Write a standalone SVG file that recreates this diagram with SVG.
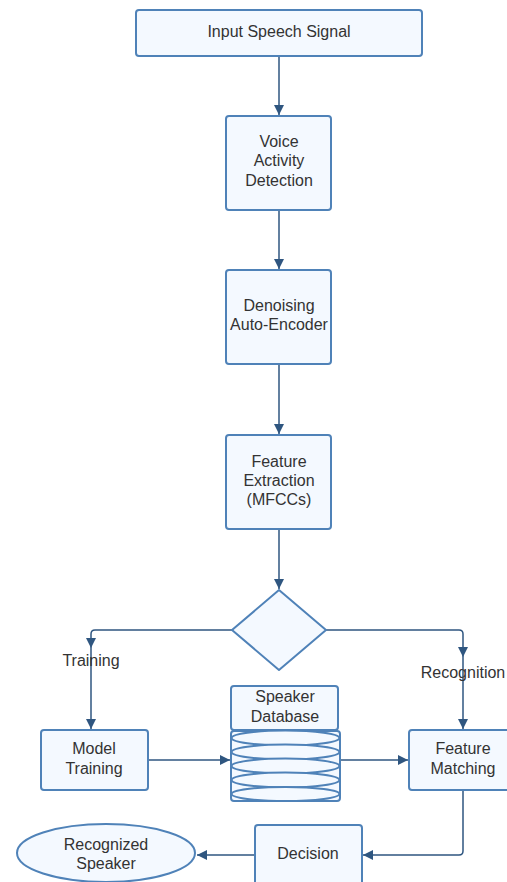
<svg xmlns="http://www.w3.org/2000/svg" width="507" height="882" viewBox="0 0 507 882">
<style>
.n{fill:#f4f9ff;stroke:#4f82b8;stroke-width:2}
.c{fill:none;stroke:#2f5680;stroke-width:1.5}
.t{font-family:"Liberation Sans",Arial,sans-serif;font-size:16px;fill:#333;text-anchor:middle}
.l{font-family:"Liberation Sans",Arial,sans-serif;font-size:16px;fill:#333;text-anchor:middle}
</style>
<defs>
<marker id="a" viewBox="0 0 10 10" refX="10" refY="5" markerWidth="10" markerHeight="10" markerUnits="userSpaceOnUse" orient="auto">
<path d="M0,0 L10,5 L0,10 Z" fill="#2f5680"/>
</marker>
</defs>
<rect width="507" height="882" fill="#fff"/>
<g id="connectors">
<path class="c" d="M279,56 V115" marker-end="url(#a)"/>
<path class="c" d="M279,210 V269" marker-end="url(#a)"/>
<path class="c" d="M279,364 V434" marker-end="url(#a)"/>
<path class="c" d="M279,529 V589" marker-end="url(#a)"/>
<path class="c" d="M232,630 H95 Q91,630 91,634 V648" marker-end="url(#a)"/>
<path class="c" d="M91,648 V729" marker-end="url(#a)"/>
<path class="c" d="M326,630 H459 Q463,630 463,634 V657" marker-end="url(#a)"/>
<path class="c" d="M463,657 V729" marker-end="url(#a)"/>
<path class="c" d="M148,760 H230" marker-end="url(#a)"/>
<path class="c" d="M340,760 H408" marker-end="url(#a)"/>
<path class="c" d="M463,790 V851 Q463,855 459,855 H363" marker-end="url(#a)"/>
<path class="c" d="M255,855 H197" marker-end="url(#a)"/>
<text class="l" x="91" y="666">Training</text>
<text class="l" x="463" y="678">Recognition</text>
</g>
<g id="input">
<rect class="n" x="136" y="10" width="286" height="46" rx="3"/>
<text class="t" x="279" y="37">Input Speech Signal</text>
</g>
<g id="vad">
<rect class="n" x="226" y="116" width="105" height="94" rx="3"/>
<text class="t" x="279" y="147">Voice</text>
<text class="t" x="279" y="166">Activity</text>
<text class="t" x="279" y="186">Detection</text>
</g>
<g id="dae">
<rect class="n" x="226" y="270" width="105" height="94" rx="3"/>
<text class="t" x="279" y="311">Denoising</text>
<text class="t" x="279" y="330">Auto-Encoder</text>
</g>
<g id="fe">
<rect class="n" x="226" y="435" width="105" height="94" rx="3"/>
<text class="t" x="279" y="467">Feature</text>
<text class="t" x="279" y="486">Extraction</text>
<text class="t" x="279" y="505">(MFCCs)</text>
</g>
<g id="decision-diamond">
<path class="n" d="M279,590 L326,630 L279,670 L232,630 Z" stroke-linejoin="round"/>
</g>
<g id="model-training">
<rect class="n" x="41" y="730" width="107" height="60" rx="3"/>
<text class="t" x="94" y="754">Model</text>
<text class="t" x="94" y="774">Training</text>
</g>
<g id="speaker-db">
<rect class="n" x="231" y="686" width="107" height="44" rx="3"/>
<text class="t" x="285" y="702">Speaker</text>
<text class="t" x="285" y="722">Database</text>
<rect class="n" x="231" y="731" width="109" height="70" rx="3"/>
<ellipse class="n" cx="285.5" cy="738" rx="54" ry="7.5" fill="none"/>
<ellipse class="n" cx="285.5" cy="752" rx="54" ry="7.5" fill="none"/>
<ellipse class="n" cx="285.5" cy="766" rx="54" ry="7.5" fill="none"/>
<ellipse class="n" cx="285.5" cy="780" rx="54" ry="7.5" fill="none"/>
<ellipse class="n" cx="285.5" cy="794" rx="54" ry="7" fill="none"/>
</g>
<g id="feature-matching">
<rect class="n" x="409" y="730" width="108" height="60" rx="3"/>
<text class="t" x="463" y="754">Feature</text>
<text class="t" x="463" y="774">Matching</text>
</g>
<g id="decision">
<rect class="n" x="255" y="825" width="107" height="66" rx="3"/>
<text class="t" x="308" y="859">Decision</text>
</g>
<g id="recognized">
<ellipse class="n" cx="106" cy="853" rx="89" ry="29"/>
<text class="t" x="106" y="850">Recognized</text>
<text class="t" x="106" y="869">Speaker</text>
</g>
</svg>
